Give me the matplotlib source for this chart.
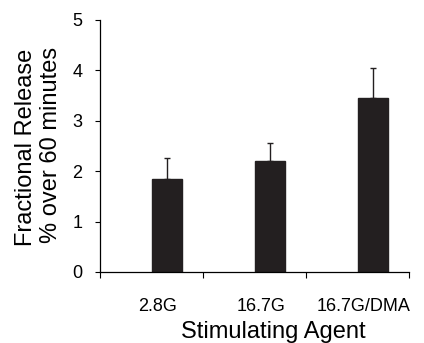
import numpy as np
import matplotlib
matplotlib.use("Agg")
import matplotlib.pyplot as plt

plt.rcParams['font.family'] = ['Liberation Sans', 'DejaVu Sans']

# values
agents = ['2.8G', '16.7G', '16.7G/DMA']
release = [1.85, 2.21, 3.45]
err_up = [0.41, 0.34, 0.60]

fig = plt.figure(figsize=(4.24, 3.43), dpi=100)
ax = fig.add_axes([100/424, 1 - 272/343, 309/424, 252/343])

x = np.arange(len(agents))
ax.bar(x + 0.15, release, width=0.285, color='#231f20', edgecolor='#231f20', zorder=2)
ax.errorbar(x + 0.15, release, yerr=[np.zeros(len(agents)), err_up],
            fmt='none', ecolor='#231f20', elinewidth=1, capsize=2.2, capthick=1, zorder=3)

ax.set_xlim(-0.5, 2.5)
ax.set_ylim(0, 5)
ax.set_yticks(range(0, 6))
ax.tick_params(axis='y', labelsize=13, length=3.6, width=0.8, pad=9, direction='out')

# category boundaries as ticks, labels centered between them
ax.set_xticks([-0.5, 0.5, 1.5, 2.5])
ax.set_xticklabels([])
ax.tick_params(axis='x', which='major', length=4.3, width=0.8, direction='out')
ax.set_xticks(x + 0.06, minor=True)
ax.set_xticklabels(agents, minor=True)
ax.tick_params(axis='x', which='minor', length=0, labelsize=13, pad=18.5)

for s in ['top', 'right']:
    ax.spines[s].set_visible(False)
for s in ['left', 'bottom']:
    ax.spines[s].set_linewidth(0.9)

fig.text(32/424, 1 - 147/343, 'Fractional Release', fontsize=17, rotation=90,
         rotation_mode='anchor', ha='center', va='baseline')
fig.text(57/424, 1 - 145/343, '% over 60 minutes', fontsize=17, rotation=90,
         rotation_mode='anchor', ha='center', va='baseline')
fig.text(273/424, 1 - 338/343, 'Stimulating Agent', fontsize=17, ha='center', va='baseline')

fig.savefig('out.png', dpi=100)
